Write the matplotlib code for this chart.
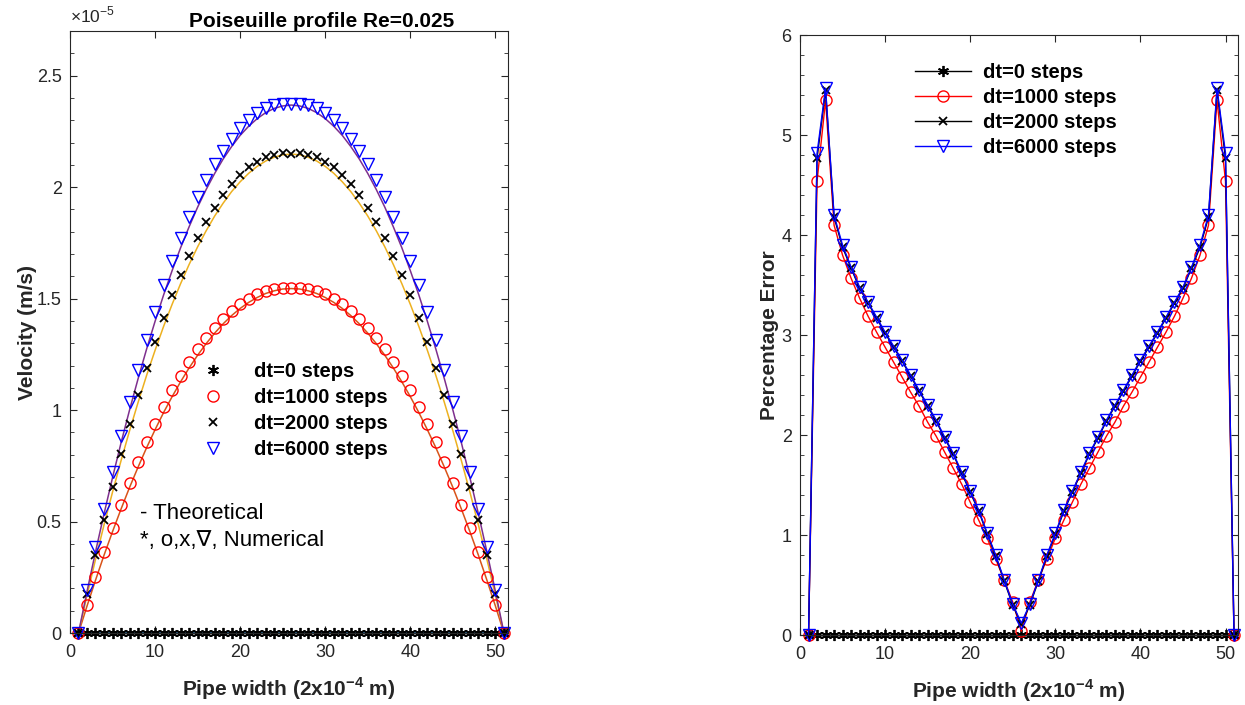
import matplotlib
matplotlib.use("Agg")
import matplotlib.pyplot as plt
from matplotlib.ticker import AutoMinorLocator, FuncFormatter
import numpy as np

plt.rcParams['font.family'] = ['Liberation Sans', 'DejaVu Sans']
plt.rcParams['mathtext.fontset'] = 'custom'
plt.rcParams['mathtext.rm'] = 'Liberation Sans'
plt.rcParams['mathtext.bf'] = 'Liberation Sans:bold'

# position across the pipe (lattice nodes)
x_nodes = list(range(1, 52))

series_labels = ['dt=0 steps', 'dt=1000 steps', 'dt=2000 steps', 'dt=6000 steps']

# velocities in units of 1e-5 m/s
theo_0 = [0.0] * 51
theo_1000 = [0, 0.121, 0.237, 0.349, 0.455, 0.556, 0.653, 0.744, 0.831, 0.912, 0.989, 1.060, 1.127,
             1.189, 1.246, 1.298, 1.345, 1.387, 1.424, 1.456, 1.483, 1.505, 1.523, 1.535, 1.543, 1.545,
             1.543, 1.535, 1.523, 1.505, 1.483, 1.456, 1.424, 1.387, 1.345, 1.298, 1.246, 1.189, 1.127,
             1.060, 0.989, 0.912, 0.831, 0.744, 0.653, 0.556, 0.455, 0.349, 0.237, 0.121, 0]
theo_2000 = [0, 0.168, 0.330, 0.485, 0.632, 0.773, 0.907, 1.034, 1.155, 1.268, 1.375, 1.474, 1.567,
             1.653, 1.732, 1.804, 1.870, 1.928, 1.980, 2.024, 2.062, 2.093, 2.117, 2.134, 2.145, 2.148,
             2.145, 2.134, 2.117, 2.093, 2.062, 2.024, 1.980, 1.928, 1.870, 1.804, 1.732, 1.653, 1.567,
             1.474, 1.375, 1.268, 1.155, 1.034, 0.907, 0.773, 0.632, 0.485, 0.330, 0.168, 0]
theo_6000 = [0, 0.186, 0.364, 0.534, 0.697, 0.853, 1.000, 1.140, 1.273, 1.398, 1.516, 1.625, 1.728,
             1.822, 1.910, 1.989, 2.061, 2.126, 2.182, 2.232, 2.273, 2.307, 2.334, 2.353, 2.364, 2.368,
             2.364, 2.353, 2.334, 2.307, 2.273, 2.232, 2.182, 2.126, 2.061, 1.989, 1.910, 1.822, 1.728,
             1.625, 1.516, 1.398, 1.273, 1.140, 1.000, 0.853, 0.697, 0.534, 0.364, 0.186, 0]

num_0 = [0.0] * 51
num_1000 = [0, 0.127, 0.250, 0.363, 0.472, 0.576, 0.675, 0.768, 0.856, 0.938, 1.016, 1.088, 1.155,
            1.216, 1.272, 1.324, 1.369, 1.410, 1.445, 1.475, 1.500, 1.520, 1.534, 1.544, 1.548, 1.546,
            1.548, 1.544, 1.534, 1.520, 1.500, 1.475, 1.445, 1.410, 1.369, 1.324, 1.272, 1.216, 1.155,
            1.088, 1.016, 0.938, 0.856, 0.768, 0.675, 0.576, 0.472, 0.363, 0.250, 0.127, 0]
num_2000 = [0, 0.176, 0.348, 0.505, 0.657, 0.802, 0.939, 1.069, 1.191, 1.307, 1.414, 1.515, 1.608,
            1.693, 1.772, 1.843, 1.906, 1.963, 2.012, 2.053, 2.088, 2.114, 2.134, 2.146, 2.151, 2.150,
            2.151, 2.146, 2.134, 2.114, 2.088, 2.053, 2.012, 1.963, 1.906, 1.843, 1.772, 1.693, 1.608,
            1.515, 1.414, 1.307, 1.191, 1.069, 0.939, 0.802, 0.657, 0.505, 0.348, 0.176, 0]
num_6000 = [0, 0.195, 0.384, 0.557, 0.724, 0.884, 1.035, 1.178, 1.313, 1.440, 1.559, 1.670, 1.773,
            1.867, 1.954, 2.032, 2.102, 2.164, 2.218, 2.264, 2.302, 2.331, 2.353, 2.366, 2.372, 2.371,
            2.372, 2.366, 2.353, 2.331, 2.302, 2.264, 2.218, 2.164, 2.102, 2.032, 1.954, 1.867, 1.773,
            1.670, 1.559, 1.440, 1.313, 1.178, 1.035, 0.884, 0.724, 0.557, 0.384, 0.195, 0]

# percentage error numerical vs theoretical
err_0 = [0.0] * 51
err_1000 = [0, 4.54, 5.35, 4.10, 3.80, 3.57, 3.37, 3.19, 3.03, 2.88, 2.73, 2.58, 2.43, 2.29, 2.13,
            1.99, 1.83, 1.67, 1.51, 1.33, 1.15, 0.97, 0.76, 0.55, 0.33, 0.04,
            0.33, 0.55, 0.76, 0.97, 1.15, 1.33, 1.51, 1.67, 1.83, 1.99, 2.13, 2.29, 2.43, 2.58, 2.73,
            2.88, 3.03, 3.19, 3.37, 3.57, 3.80, 4.10, 5.35, 4.54, 0]
err_2000 = [0, 4.77, 5.45, 4.18, 3.88, 3.67, 3.47, 3.32, 3.17, 3.02, 2.88, 2.74, 2.59, 2.44, 2.29,
            2.14, 1.97, 1.81, 1.62, 1.43, 1.24, 1.01, 0.79, 0.54, 0.30, 0.11,
            0.30, 0.54, 0.79, 1.01, 1.24, 1.43, 1.62, 1.81, 1.97, 2.14, 2.29, 2.44, 2.59, 2.74, 2.88,
            3.02, 3.17, 3.32, 3.47, 3.67, 3.88, 4.18, 5.45, 4.77, 0]
err_6000 = [0, 4.82, 5.47, 4.20, 3.90, 3.68, 3.48, 3.33, 3.18, 3.03, 2.89, 2.75, 2.60, 2.45, 2.30,
            2.15, 1.98, 1.82, 1.63, 1.44, 1.25, 1.02, 0.80, 0.55, 0.31, 0.12,
            0.31, 0.55, 0.80, 1.02, 1.25, 1.44, 1.63, 1.82, 1.98, 2.15, 2.30, 2.45, 2.60, 2.75, 2.89,
            3.03, 3.18, 3.33, 3.48, 3.68, 3.90, 4.20, 5.47, 4.82, 0]

gray = '#262626'
asterisk = (6, 2, 0)
lab_font = 15

fig = plt.figure(figsize=(12.45, 7.05), dpi=100)
ax1 = fig.add_axes([0.0562, 0.102, 0.352, 0.854])
ax2 = fig.add_axes([0.6426, 0.099, 0.352, 0.851])

# --- left : velocity profiles
theo_cols = ['#0072BD', '#D95319', '#EDB120', '#7E2F8E']
for t, c in zip([theo_0, theo_1000, theo_2000, theo_6000], theo_cols):
    ax1.plot(x_nodes, t, '-', color=c, lw=1.1)

# markers are not clipped at the axes edge (like matlab)
h0, = ax1.plot(x_nodes, num_0, ls='none', marker=asterisk, color='black', ms=8, mew=1.3, clip_on=False)
h1, = ax1.plot(x_nodes, num_1000, ls='none', marker='o', mfc='none', mec='red', ms=8, mew=1.0, clip_on=False)
h2, = ax1.plot(x_nodes, num_2000, ls='none', marker='x', color='black', ms=5.5, mew=1.3, clip_on=False)
h3, = ax1.plot(x_nodes, num_6000, ls='none', marker='v', mfc='none', mec='blue', ms=9, mew=1.0, clip_on=False)

ax1.set_xlim(0, 51.5)
ax1.set_ylim(0, 2.7)
ax1.set_xticks([0, 10, 20, 30, 40, 50])
ax1.set_yticks([0, 0.5, 1, 1.5, 2, 2.5])
ax1.yaxis.set_major_formatter(FuncFormatter(lambda v, p: '%g' % v))
ax1.yaxis.set_minor_locator(AutoMinorLocator(5))
ax1.text(0.0, 1.01, r'$\times$10$^{-5}$', transform=ax1.transAxes, fontsize=12.5,
         color=gray, ha='left', va='bottom')
ax1.set_title('Poiseuille profile Re=0.025', fontsize=15, fontweight='bold', pad=3, x=0.575)
ax1.set_xlabel(r'Pipe width (2x10$^{\mathbf{-4}}$ m)', fontsize=lab_font, fontweight='bold',
               color=gray, labelpad=10)
ax1.set_ylabel('Velocity (m/s)', fontsize=lab_font, fontweight='bold', color=gray, labelpad=0)
ax1.legend([h0, h1, h2, h3], series_labels, loc='upper left', bbox_to_anchor=(0.287, 0.45),
           frameon=False, borderpad=0, borderaxespad=0, handlelength=1.7, handletextpad=1.2,
           labelspacing=0.34, prop={'weight': 'bold', 'size': 14.5})
ax1.text(0.16, 0.199, '- Theoretical', transform=ax1.transAxes, fontsize=16, va='center')
ax1.text(0.16, 0.154, '*, o,x,\u2207, Numerical', transform=ax1.transAxes, fontsize=16, va='center')

# --- right : percentage error
ax2.plot(x_nodes, err_0, '-', color='black', marker=asterisk, ms=8, mew=1.3, lw=1.0,
         label=series_labels[0], clip_on=False)
ax2.plot(x_nodes, err_1000, '-', color='red', marker='o', mfc='none', ms=8, mew=1.0, lw=1.0,
         label=series_labels[1], clip_on=False)
ax2.plot(x_nodes, err_2000, '-', color='black', marker='x', ms=5.5, mew=1.3, lw=1.0,
         label=series_labels[2], clip_on=False)
ax2.plot(x_nodes, err_6000, '-', color='blue', marker='v', mfc='none', ms=9, mew=1.0, lw=1.0,
         label=series_labels[3], clip_on=False)

ax2.set_xlim(0, 51.5)
ax2.set_ylim(0, 6)
ax2.set_xticks([0, 10, 20, 30, 40, 50])
ax2.set_yticks([0, 1, 2, 3, 4, 5, 6])
ax2.yaxis.set_minor_locator(AutoMinorLocator(5))
ax2.set_xlabel(r'Pipe width (2x10$^{\mathbf{-4}}$ m)', fontsize=lab_font, fontweight='bold',
               color=gray, labelpad=10)
ax2.set_ylabel('Percentage Error', fontsize=lab_font, fontweight='bold', color=gray, labelpad=2)
ax2.legend(loc='upper left', bbox_to_anchor=(0.263, 0.954), frameon=False, borderpad=0,
           borderaxespad=0, handlelength=2.75, handletextpad=0.6, labelspacing=0.3,
           prop={'weight': 'bold', 'size': 14.5})

for ax in (ax1, ax2):
    ax.tick_params(which='both', direction='in', top=True, right=True, colors=gray,
                   labelsize=13)
    ax.tick_params(axis='x', pad=8)
    ax.tick_params(axis='y', pad=6)
    ax.tick_params(which='major', length=5)
    ax.tick_params(which='minor', length=3)
    ax.tick_params(axis='x', which='minor', bottom=False, top=False)
    for s in ax.spines.values():
        s.set_color(gray)
        s.set_linewidth(0.8)

fig.savefig('out.png', dpi=100)
